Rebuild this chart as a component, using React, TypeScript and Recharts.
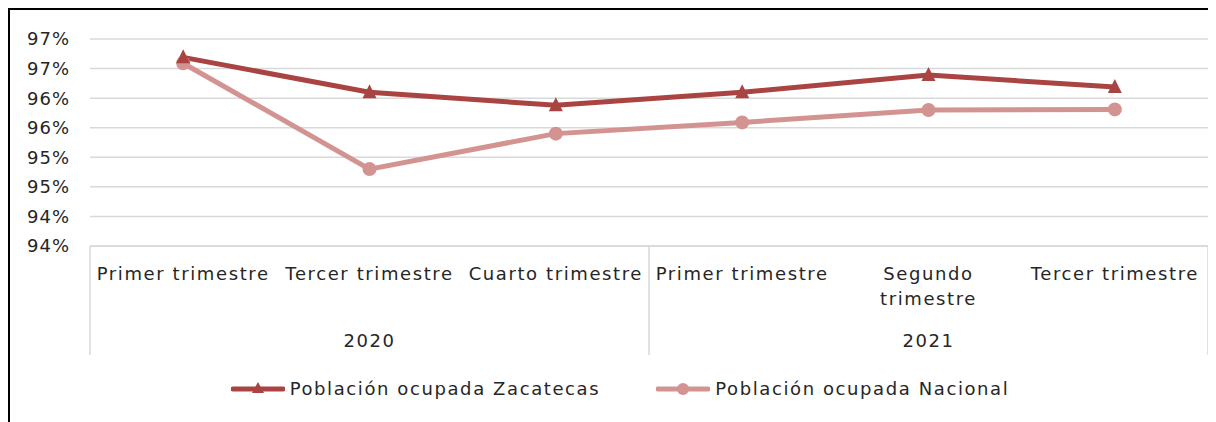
import { LineChart, Line, XAxis, YAxis, CartesianGrid, Legend } from "recharts";

const quarters = [
  "Primer trimestre",
  "Tercer trimestre",
  "Cuarto trimestre",
  "Primer trimestre",
  "Segundo trimestre",
  "Tercer trimestre",
];
const years = ["2020", "2020", "2020", "2021", "2021", "2021"];
const zacatecas = [97.19, 96.6, 96.38, 96.6, 96.89, 96.69];
const nacional = [97.09, 95.3, 95.9, 96.09, 96.3, 96.31];
const yTicks = [94, 94.5, 95, 95.5, 96, 96.5, 97, 97.5];

const ZAC_COLOR = "#a94442";
const NAC_COLOR = "#d39391";
const TEXT_COLOR = "#262626";
const GRID_COLOR = "#d9d9d9";
const FONT = "'DejaVu Sans', sans-serif";

const data = quarters.map((q, i) => ({
  id: `${years[i]}-${i}`,
  quarter: q,
  year: years[i],
  zacatecas: zacatecas[i],
  nacional: nacional[i],
}));

function wrapLabel(label: string): string[] {
  if (label.length <= 16) return [label];
  const cut = label.indexOf(" ");
  return [label.slice(0, cut), label.slice(cut + 1)];
}

const textStyle = {
  fontSize: 18,
  fontFamily: FONT,
  fill: TEXT_COLOR,
  letterSpacing: 1.6,
};

const QuarterTick = (props: any) => {
  const { x, y, index, payload } = props;
  const half = payload?.offset ?? 93;
  const year = years[index];
  const first = years.indexOf(year);
  const last = years.lastIndexOf(year);
  const lines = wrapLabel(quarters[index]);
  return (
    <g>
      {lines.map((l, k) => (
        <text key={k} x={x} y={y + 34 + k * 25} textAnchor="middle" style={textStyle}>
          {l}
        </text>
      ))}
      {index === first && (
        <>
          <line x1={x - half} x2={x - half} y1={y} y2={y + 109} stroke={GRID_COLOR} strokeWidth={1.5} />
          <text
            x={x - half + ((last - first + 1) * 2 * half) / 2}
            y={y + 101}
            textAnchor="middle"
            style={textStyle}
          >
            {year}
          </text>
        </>
      )}
      {index === years.length - 1 && (
        <line x1={x + half} x2={x + half} y1={y} y2={y + 109} stroke={GRID_COLOR} strokeWidth={1.5} />
      )}
    </g>
  );
};

const TriangleDot = (props: any) => {
  const { cx, cy } = props;
  if (cx == null || cy == null) return null;
  return <path d={`M${cx},${cy - 8} L${cx + 7},${cy + 6} L${cx - 7},${cy + 6} Z`} fill={ZAC_COLOR} />;
};

const LegendContent = () => {
  const items = [
    { label: "Población ocupada Zacatecas", color: ZAC_COLOR, shape: "triangle" },
    { label: "Población ocupada Nacional", color: NAC_COLOR, shape: "circle" },
  ];
  return (
    <div
      style={{
        display: "flex",
        justifyContent: "center",
        gap: 56,
        paddingTop: 22,
        paddingLeft: 22,
        fontFamily: FONT,
        fontSize: 18,
        letterSpacing: 1.6,
        color: TEXT_COLOR,
      }}
    >
      {items.map((it) => (
        <div key={it.label} style={{ display: "flex", alignItems: "center" }}>
          <svg width={54} height={20} style={{ marginRight: 5 }}>
            <line x1={2} x2={52} y1={10} y2={10} stroke={it.color} strokeWidth={5} strokeLinecap="round" />
            {it.shape === "triangle" ? (
              <path d="M27,3 L33,14 L21,14 Z" fill={it.color} />
            ) : (
              <circle cx={27} cy={10} r={6} fill={it.color} />
            )}
          </svg>
          <span>{it.label}</span>
        </div>
      ))}
    </div>
  );
};

export default function App() {
  return (
    <div
      style={{
        width: 1206,
        height: 412,
        borderLeft: "2px solid #000",
        borderTop: "2px solid #000",
        background: "#fff",
      }}
    >
      <LineChart width={1206} height={412} data={data} margin={{ top: 29, right: 8, left: 0, bottom: 0 }}>
        <CartesianGrid vertical={false} stroke={GRID_COLOR} strokeWidth={1.5} />
        <XAxis
          dataKey="id"
          scale="band"
          interval={0}
          height={110}
          tickSize={0}
          tickMargin={0}
          axisLine={{ stroke: GRID_COLOR, strokeWidth: 1.5 }}
          tickLine={false}
          tick={<QuarterTick />}
        />
        <YAxis
          domain={[94, 97.5]}
          ticks={yTicks}
          width={80}
          axisLine={false}
          tickLine={false}
          tickSize={0}
          tickMargin={20}
          tickFormatter={(v: number) => `${Math.floor(v)}%`}
          tick={{ fontSize: 18, fontFamily: FONT, fill: TEXT_COLOR, letterSpacing: 1 } as any}
        />
        <Legend verticalAlign="bottom" height={66} content={<LegendContent />} />
        <Line
          type="linear"
          dataKey="nacional"
          name="Población ocupada Nacional"
          stroke={NAC_COLOR}
          strokeWidth={5}
          dot={{ r: 7, fill: NAC_COLOR, stroke: NAC_COLOR, strokeWidth: 0 }}
          activeDot={false}
          isAnimationActive={false}
        />
        <Line
          type="linear"
          dataKey="zacatecas"
          name="Población ocupada Zacatecas"
          stroke={ZAC_COLOR}
          strokeWidth={5}
          dot={<TriangleDot />}
          activeDot={false}
          isAnimationActive={false}
        />
      </LineChart>
    </div>
  );
}
